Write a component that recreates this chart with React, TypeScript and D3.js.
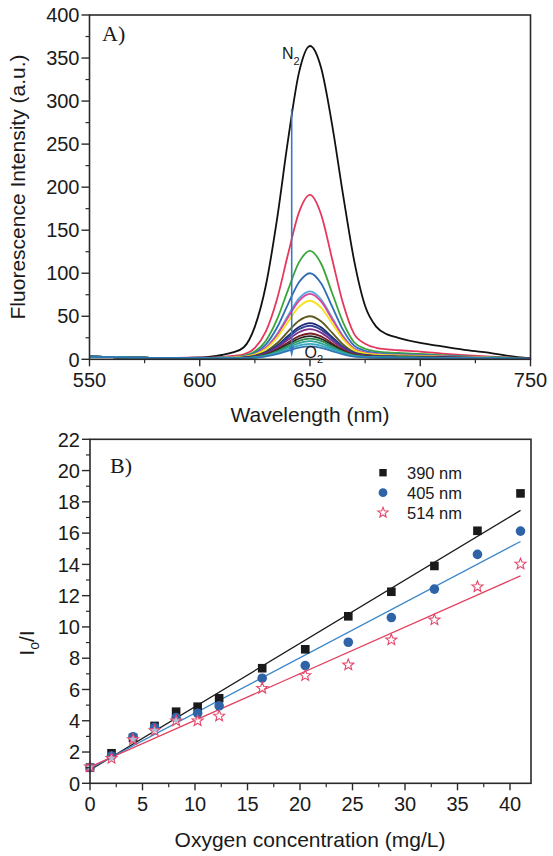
import React from "react";
import * as d3 from "d3";

// ---------- Panel A: emission spectra ----------
const wavelengths = [550,560,570,580,590,600,605,610,615,620,625,630,635,640,645,650,655,660,665,670,675,680,685,690,700,710,720,730,740,750];

const specN2 = [3,2.5,2,1.5,1.5,2,3,5,8,14,38,86,162,254,333,364,339,273,191,115,62,38,29,25,19,15,11,8,4,1];
const specRed = [3,2.5,2,1.5,1.7,2.1,2,2.9,3.9,5.8,13.4,32.4,69.4,121.7,170.7,191,168.6,116.9,64.7,29.5,18.1,13.4,11.5,10.5,9,6.7,4.8,3.3,2.1,0.9];
const specGreen = [3,2.5,2,1.5,1.6,1.9,1.6,2.3,2.9,4.1,9.1,21.6,46,80.4,112.6,126,111.3,77.3,42.9,19.8,12.3,9.1,7.9,7.3,6.3,4.8,3.5,2.5,1.8,0.8];
const specBlue = [3,2.5,2,1.5,1.6,1.8,1.5,2,2.5,3.5,7.4,17.3,36.6,63.9,89.4,100,88.3,61.4,34.2,15.9,9.9,7.4,6.4,6,5.2,4,3,2.2,1.6,0.7];
const specCyan = [3,2.5,2,1.5,1.6,1.7,1.4,1.8,2.2,3,6.1,13.9,29.1,50.5,70.7,79,69.8,48.6,27.1,12.7,8,6.1,5.3,4.9,4.3,3.3,2.6,1.9,1.5,0.7];
const specMagenta = [3,2.5,2,1.5,1.6,1.7,1.4,1.8,2.1,2.9,5.9,13.4,28,48.6,68,76,67.2,46.8,26.1,12.3,7.8,5.9,5.1,4.8,4.2,3.3,2.5,1.9,1.5,0.7];
const specYellow = [3,2.5,2,1.5,1.6,1.7,1.3,1.7,2,2.7,5.4,12.1,25.1,43.5,60.8,68,60.1,41.9,23.4,11.1,7,5.4,4.7,4.4,3.8,3,2.3,1.8,1.4,0.6];
const specOlive = [3,2.5,2,1.5,1.5,1.6,1.2,1.5,1.7,2.2,4.2,9.1,18.6,32.1,44.8,50,44.2,30.9,17.4,8.4,5.4,4.2,3.7,3.5,3.1,2.5,2,1.6,1.3,0.6];
const specNavy = [3,2.5,2,1.5,1.5,1.6,1.2,1.4,1.6,2,3.7,7.8,15.8,27,37.6,42,37.2,26,14.7,7.2,4.7,3.7,3.3,3.1,2.7,2.2,1.8,1.5,1.2,0.6];
const specDarkBlue = [3,2.5,2,1.5,1.5,1.6,1.2,1.4,1.6,2,3.5,7.3,14.7,25.1,34.9,39,34.5,24.2,13.7,6.7,4.4,3.5,3.1,2.9,2.6,2.1,1.8,1.5,1.2,0.6];
const specPurple = [3,2.5,2,1.5,1.5,1.6,1.2,1.3,1.5,1.9,3.2,6.6,13.2,22.6,31.4,35,31,21.7,12.4,6.1,4.1,3.2,2.9,2.7,2.4,2,1.7,1.4,1.2,0.6];
const specDarkRed = [3,2.5,2,1.5,1.5,1.6,1.1,1.3,1.4,1.7,2.9,5.8,11.4,19.4,26.9,30,26.6,18.7,10.7,5.4,3.6,2.9,2.6,2.5,2.2,1.9,1.6,1.3,1.2,0.6];
const specDark = [3,2.5,2,1.5,1.5,1.6,1.1,1.3,1.4,1.7,2.7,5.3,10.4,17.5,24.2,27,23.9,16.9,9.7,4.9,3.3,2.7,2.4,2.3,2.1,1.8,1.5,1.3,1.2,0.6];
const specGreen2 = [3,2.5,2,1.5,1.5,1.6,1.1,1.2,1.3,1.6,2.5,4.8,9.3,15.6,21.5,24,21.3,15,8.7,4.5,3.1,2.5,2.3,2.2,2,1.7,1.5,1.3,1.1,0.5];
const specTeal = [3,2.5,2,1.5,1.5,1.6,1.1,1.2,1.3,1.5,2.3,4.3,8.2,13.7,18.9,21,18.6,13.2,7.7,4,2.8,2.3,2.1,2,1.8,1.6,1.4,1.2,1.1,0.5];
const specCyan2 = [3,2.5,2,1.5,1.5,1.6,1.1,1.2,1.3,1.4,2.1,3.8,7.1,11.8,16.2,18,16,11.4,6.7,3.6,2.5,2.1,1.9,1.9,1.7,1.5,1.3,1.2,1.1,0.5];
const specO2 = [3,2.5,2,1.5,1.5,1.5,1.1,1.1,1.2,1.4,1.9,3.3,6,9.9,13.5,15,13.3,9.5,5.7,3.1,2.3,1.9,1.8,1.7,1.6,1.4,1.3,1.2,1.1,0.5];

const spectra = [specN2, specRed, specGreen, specBlue, specCyan, specMagenta, specYellow, specOlive, specNavy, specDarkBlue, specPurple, specDarkRed, specDark, specGreen2, specTeal, specCyan2, specO2];
const spectraColors = ["#111111", "#e5385e", "#3aa63a", "#2f6db4", "#56a9dc", "#d9459e", "#f4e21c", "#5c5a1c", "#1d2a70", "#33439a", "#7a2f8c", "#7c1f24", "#262626", "#2f8f4f", "#2aa39a", "#3aa9c0", "#2f77b3"];

const xTicksA = [550, 600, 650, 700, 750];
const yTicksA = [0, 50, 100, 150, 200, 250, 300, 350, 400];

const arrowWl = 641.7;
const arrowFrom = 291;
const arrowTo = 2;

// ---------- Panel B: Stern-Volmer plot ----------
const oxygen = [0, 2.05, 4.1, 6.15, 8.2, 10.25, 12.3, 16.4, 20.5, 24.6, 28.7, 32.8, 36.9, 41];
const ratio390 = [1.0, 1.92, 2.9, 3.67, 4.58, 4.9, 5.44, 7.36, 8.57, 10.68, 12.25, 13.9, 16.15, 18.54];
const ratio405 = [1.0, 1.75, 2.98, 3.58, 4.2, 4.48, 4.95, 6.72, 7.53, 9.02, 10.6, 12.42, 14.64, 16.13];
const ratio514 = [1.05, 1.6, 2.8, 3.37, 4.0, 4.0, 4.3, 6.08, 6.89, 7.57, 9.17, 10.45, 12.57, 14.02];
const seriesNames = ["390 nm", "405 nm", "514 nm"];
const fitIntercept = [0.85, 0.95, 1.05];
const fitSlope = [0.405, 0.354, 0.298];
const fitRange = [0, 41];

const xTicksB = [0, 5, 10, 15, 20, 25, 30, 35, 40];
const yTicksB = [0, 2, 4, 6, 8, 10, 12, 14, 16, 18, 20, 22];

const SANS = "'Liberation Sans', Arial, Helvetica, sans-serif";
const SERIF = "'Liberation Serif', 'Times New Roman', serif";
const AX = "#2a2a2a";

function starPath(cx: number, cy: number, R: number, r: number) {
  const pts: [number, number][] = [];
  for (let i = 0; i < 10; i++) {
    const a = -Math.PI / 2 + (i * Math.PI) / 5;
    const rad = i % 2 === 0 ? R : r;
    pts.push([cx + rad * Math.cos(a), cy + rad * Math.sin(a)]);
  }
  return "M" + pts.map((p) => p[0].toFixed(2) + "," + p[1].toFixed(2)).join("L") + "Z";
}

function Frame({ x, y, xTicks, yTicks, xMinor, yMinor }: any) {
  const [x0, x1] = x.range();
  const [y0, y1] = y.range();
  return (
    <g>
      <rect x={x0} y={y1} width={x1 - x0} height={y0 - y1} fill="none" stroke={AX} strokeWidth={1.6} />
      {xMinor.map((t: number) => (
        <line key={"xm" + t} x1={x(t)} x2={x(t)} y1={y0} y2={y0 + 4} stroke={AX} strokeWidth={1.2} />
      ))}
      {yMinor.map((t: number) => (
        <line key={"ym" + t} x1={x0} x2={x0 - 4} y1={y(t)} y2={y(t)} stroke={AX} strokeWidth={1.2} />
      ))}
      {xTicks.map((t: number) => (
        <g key={"x" + t}>
          <line x1={x(t)} x2={x(t)} y1={y0} y2={y0 + 7} stroke={AX} strokeWidth={1.4} />
          <text x={x(t)} y={y0 + 28} textAnchor="middle" fontFamily={SANS} fontSize={20} fill="#1a1a1a">{t}</text>
        </g>
      ))}
      {yTicks.map((t: number) => (
        <g key={"y" + t}>
          <line x1={x0} x2={x0 - 8} y1={y(t)} y2={y(t)} stroke={AX} strokeWidth={1.4} />
          <text x={x0 - 10} y={y(t)} dy="0.36em" textAnchor="end" fontFamily={SANS} fontSize={20} fill="#1a1a1a">{t}</text>
        </g>
      ))}
    </g>
  );
}

export default function App() {
  // Panel A scales
  const xA = d3.scaleLinear().domain([550, 750]).range([89.5, 530.5]);
  const yA = d3.scaleLinear().domain([0, 400]).range([359.3, 15]);
  // Panel B scales
  const xB = d3.scaleLinear().domain([0, 42]).range([90, 531]);
  const yB = d3.scaleLinear().domain([0, 22]).range([783.3, 439.3]);

  const lineA = d3
    .line<number>()
    .x((_, i) => xA(wavelengths[i]))
    .y((d) => yA(d))
    .curve(d3.curveMonotoneX);

  const minorA_x = d3.range(575, 750, 50);
  const minorA_y = d3.range(25, 400, 50);
  const minorB_x = d3.range(2.5, 42, 5);
  const minorB_y = d3.range(1, 22, 2);

  const ax = xA(arrowWl);
  const ayTop = yA(arrowFrom);
  const ayBot = yA(arrowTo);

  const fitColors = ["#1a1a1a", "#3b86c8", "#e2405f"];

  const legendX = 383;
  const legendY = [472.7, 492.7, 512.7];

  return (
    <svg width={553} height={856} style={{ position: "absolute", left: 0, top: 0, background: "#fff" }}>
      <rect x={0} y={0} width={553} height={856} fill="#ffffff" />

      {/* Panel A */}
      <g>
        {spectra.map((s, i) => (
          <path key={i} d={lineA(s) || ""} fill="none" stroke={spectraColors[i]} strokeWidth={1.8} />
        ))}
        <line x1={ax} x2={ax} y1={ayTop} y2={ayBot - 9} stroke="#3a78c0" strokeWidth={1.6} />
        <path d={`M${ax - 2.5},${ayBot - 11} L${ax + 2.5},${ayBot - 11} L${ax},${ayBot} Z`} fill="#3a78c0" />
        <Frame x={xA} y={yA} xTicks={xTicksA} yTicks={yTicksA} xMinor={minorA_x} yMinor={minorA_y} />
        <text x={102} y={41} fontFamily={SERIF} fontSize={22} fill="#1a1a1a">A)</text>
        <text x={xA(637.3)} y={yA(349)} fontFamily={SANS} fontSize={16} fill="#1a1a1a">
          N<tspan fontSize={11} dy={6}>2</tspan>
        </text>
        <text x={xA(647.5)} y={yA(1.5)} fontFamily={SANS} fontSize={16} fill="#1a1a1a">
          O<tspan fontSize={11} dy={5}>2</tspan>
        </text>
        <text x={310} y={422} textAnchor="middle" fontFamily={SANS} fontSize={21} fill="#1a1a1a">Wavelength (nm)</text>
        <text transform="translate(25,187) rotate(-90)" textAnchor="middle" fontFamily={SANS} fontSize={21} fill="#1a1a1a">
          Fluorescence Intensity (a.u.)
        </text>
      </g>

      {/* Panel B */}
      <g>
        {fitIntercept.map((b, i) => (
          <line
            key={"fit" + i}
            x1={xB(fitRange[0])}
            y1={yB(b + fitSlope[i] * fitRange[0])}
            x2={xB(fitRange[1])}
            y2={yB(b + fitSlope[i] * fitRange[1])}
            stroke={fitColors[i]}
            strokeWidth={1.3}
          />
        ))}
        {oxygen.map((o, i) => (
          <rect key={"sq" + i} x={xB(o) - 4.3} y={yB(ratio390[i]) - 4.3} width={8.6} height={8.6} fill="#1a1a1a" />
        ))}
        {oxygen.map((o, i) => (
          <circle key={"ci" + i} cx={xB(o)} cy={yB(ratio405[i])} r={4.8} fill="#2f63a8" />
        ))}
        {oxygen.map((o, i) => (
          <path key={"st" + i} d={starPath(xB(o), yB(ratio514[i]), 5.8, 2.5)} fill="#fff" fillOpacity={0.6} stroke="#e5476b" strokeWidth={1.1} />
        ))}
        <Frame x={xB} y={yB} xTicks={xTicksB} yTicks={yTicksB} xMinor={minorB_x} yMinor={minorB_y} />
        <text x={110} y={473} fontFamily={SERIF} fontSize={22} fill="#1a1a1a">B)</text>

        {/* legend */}
        <rect x={legendX - 3.7} y={legendY[0] - 3.7} width={7.4} height={7.4} fill="#1a1a1a" />
        <circle cx={legendX} cy={legendY[1]} r={4.4} fill="#2f63a8" />
        <path d={starPath(legendX, legendY[2], 5.4, 2.3)} fill="#fff" stroke="#e5476b" strokeWidth={1.1} />
        {seriesNames.map((n, i) => (
          <text key={n} x={407} y={legendY[i]} dy="0.36em" fontFamily={SANS} fontSize={16.5} fill="#1a1a1a">{n}</text>
        ))}

        <text x={310} y={847} textAnchor="middle" fontFamily={SANS} fontSize={21} fill="#1a1a1a">Oxygen concentration (mg/L)</text>
        <text transform="translate(34,643) rotate(-90)" textAnchor="middle" fontFamily={SANS} fontSize={21} fill="#1a1a1a">
          I<tspan fontSize={14} dy={5}>o</tspan><tspan dy={-5}>/I</tspan>
        </text>
      </g>
    </svg>
  );
}
